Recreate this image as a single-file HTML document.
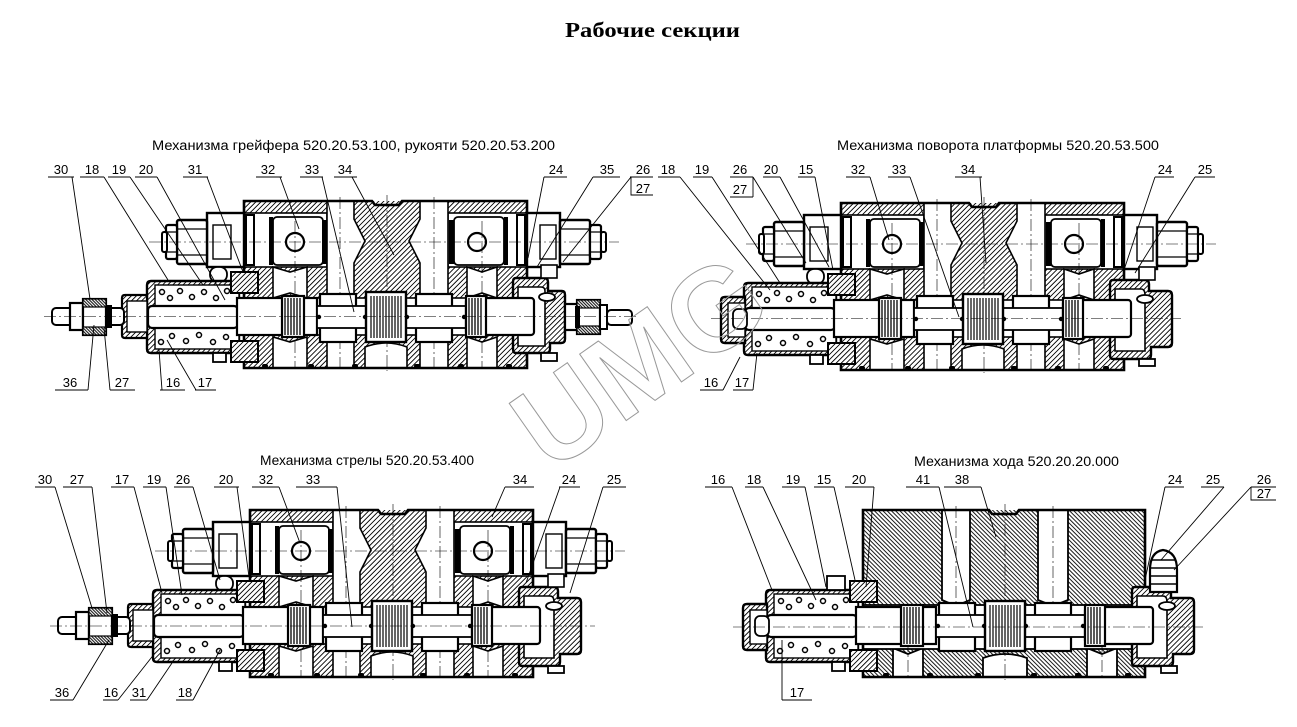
<!DOCTYPE html>
<html><head><meta charset="utf-8"><style>
html,body{margin:0;padding:0;background:#fff;}
svg{display:block;}
</style></head><body>
<svg xmlns="http://www.w3.org/2000/svg" width="1297" height="727" viewBox="0 0 1297 727">
<defs>
<pattern id="hA" patternUnits="userSpaceOnUse" width="3.6" height="8" patternTransform="rotate(45)"><rect width="3.6" height="8" fill="#fff"/><line x1="1.8" y1="0" x2="1.8" y2="8" stroke="#000" stroke-width="0.9"/></pattern>
<pattern id="hB" patternUnits="userSpaceOnUse" width="3" height="8" patternTransform="rotate(-45)"><rect width="3" height="8" fill="#fff"/><line x1="1.5" y1="0" x2="1.5" y2="8" stroke="#000" stroke-width="0.9"/></pattern>
<pattern id="hX" patternUnits="userSpaceOnUse" width="2.2" height="8" patternTransform="rotate(-45)"><rect width="2.2" height="8" fill="#fff"/><line x1="1.1" y1="0" x2="1.1" y2="8" stroke="#000" stroke-width="1"/></pattern>

<g id="spool" stroke="#000" fill="#fff">
 <rect x="-7" y="97" width="80" height="37" stroke-width="2.2"/>
 <rect x="38" y="95" width="22" height="41" stroke-width="2.2"/>
 <path d="M41,97V134M44,97V134M47,97V134M50,97V134M53,97V134M56,97V134" stroke-width="1.3"/>
 <rect x="76" y="93" width="36" height="48" stroke-width="2.2"/>
 <rect x="73" y="105" width="50" height="22" stroke-width="1.8"/>
 <rect x="172" y="93" width="36" height="48" stroke-width="2.2"/>
 <rect x="160" y="105" width="62" height="22" stroke-width="1.8"/>
 <rect x="122" y="91" width="40" height="50" stroke-width="2.4"/>
 <path d="M127,95V137M130,95V137M133,95V137M136,95V137M139,95V137M142,95V137M145,95V137M148,95V137M151,95V137M154,95V137M157,95V137" stroke-width="1.2"/>
 <rect x="222" y="97" width="68" height="37" rx="3" stroke-width="2.2"/>
 <rect x="222" y="95" width="20" height="41" stroke-width="2.2"/>
 <path d="M225,97V134M228,97V134M231,97V134M234,97V134M237,97V134" stroke-width="1.3"/>
 <g fill="#000" stroke="none"><circle cx="75" cy="116" r="2.2"/><circle cx="121" cy="116" r="2.2"/><circle cx="163" cy="116" r="2.2"/><circle cx="220" cy="116" r="2.2"/></g>
</g>

<g id="body">
 <rect x="0" y="0" width="283" height="167" fill="url(#hA)"/>
 <g fill="#fff" stroke="#000" stroke-width="1.6">
  <rect x="0" y="12" width="83" height="54"/>
  <rect x="204" y="12" width="79" height="54"/>
  <path d="M83,0H110V18L121,40L110,62V167H83Z"/>
  <path d="M204,0H176V18L165,40L176,62V167H204Z"/>
  <path d="M29,66L46,71L63,66V97L46,92L29,97Z"/>
  <path d="M223,66L238,71L253,66V97L238,92L223,97Z"/>
  <path d="M29,167V136L46,141L63,136V167Z"/>
  <path d="M223,167V136L238,141L253,136V167Z"/>
  <path d="M121,167V146Q142,138 163,146V167Z"/>
 </g>
 <rect x="0" y="97" width="283" height="37" fill="#fff" stroke="#000" stroke-width="1.6"/>
 <g stroke="#000" fill="#fff">
  <rect x="2" y="14" width="8" height="50" stroke-width="2"/>
  <rect x="29" y="16" width="50" height="48" rx="4" stroke-width="1.8"/>
  <circle cx="51" cy="41" r="9" stroke-width="2.2"/>
  <rect x="210" y="16" width="50" height="48" rx="4" stroke-width="1.8"/>
  <circle cx="233" cy="41" r="9" stroke-width="2.2"/>
  <rect x="273" y="14" width="8" height="50" stroke-width="2"/>
 </g>
 <rect x="78" y="19" width="5" height="44" fill="#000"/>
 <rect x="25" y="16" width="4" height="48" fill="#000"/>
 <rect x="205" y="19" width="5" height="44" fill="#000"/>
 <rect x="260" y="16" width="4" height="48" fill="#000"/>
 <path d="M0,0H128L131,4H155L158,0H283V167H0Z" fill="none" stroke="#000" stroke-width="2.6"/>
 <g fill="#000"><rect x="18" y="163" width="6" height="4" rx="2"/><rect x="64" y="163" width="6" height="4" rx="2"/><rect x="108" y="163" width="6" height="4" rx="2"/><rect x="170" y="163" width="6" height="4" rx="2"/><rect x="214" y="163" width="6" height="4" rx="2"/><rect x="262" y="163" width="6" height="4" rx="2"/></g>
 <g stroke="#000" fill="#fff">
  <rect x="-37" y="12" width="37" height="54" stroke-width="2.4"/>
  <rect x="-31" y="24" width="18" height="34" stroke-width="1.4"/>
  <rect x="-34" y="66" width="17" height="15" rx="7" stroke-width="1.8"/>
  <rect x="-67" y="19" width="30" height="44" rx="2" stroke-width="2.4"/>
  <path d="M-67,28H-37M-67,54H-37" stroke-width="1.2"/>
  <rect x="-78" y="24" width="11" height="34" rx="2" stroke-width="2.2"/>
  <path d="M-78,31H-67M-78,51H-67" stroke-width="1.2"/>
  <rect x="-82" y="31" width="5" height="20" rx="2" stroke-width="2"/>
 </g>
 <g stroke="#000" fill="#fff">
  <rect x="283" y="12" width="33" height="54" stroke-width="2.4"/>
  <rect x="296" y="24" width="16" height="34" stroke-width="1.4"/>
  <rect x="316" y="19" width="30" height="44" rx="2" stroke-width="2.4"/>
  <path d="M316,28H346M316,54H346" stroke-width="1.2"/>
  <rect x="346" y="24" width="11" height="34" rx="2" stroke-width="2.2"/>
  <path d="M346,31H357M346,51H357" stroke-width="1.2"/>
  <rect x="357" y="31" width="5" height="20" rx="2" stroke-width="2"/>
 </g>
 <g stroke="#000" stroke-width="0.6" stroke-dasharray="12,3,2,3" fill="none">
  <path d="M-95,41H375"/>
  <path d="M51,20V167M96,-4V167M143,-6V170M190,-4V167M238,20V167"/>
 </g>
</g>

<g id="lcap">
 <path d="M-93,80H-5V152H-93Q-97,152 -97,148V84Q-97,80 -93,80Z" fill="url(#hA)" stroke="#000" stroke-width="2.4"/>
 <rect x="-89" y="84" width="84" height="64" fill="#fff" stroke="#000" stroke-width="1.4"/>
 <rect x="-13" y="71" width="27" height="21" fill="url(#hA)" stroke="#000" stroke-width="2"/>
 <rect x="-13" y="140" width="27" height="21" fill="url(#hA)" stroke="#000" stroke-width="2"/>
 <g fill="#fff" stroke="#000" stroke-width="1.5">
  <circle cx="-82" cy="91" r="2.5"/><circle cx="-74" cy="97" r="2.5"/><circle cx="-64" cy="90" r="2.5"/><circle cx="-52" cy="96" r="2.5"/><circle cx="-40" cy="91" r="2.5"/><circle cx="-28" cy="97" r="2.5"/><circle cx="-17" cy="90" r="2.5"/>
  <circle cx="-83" cy="141" r="2.5"/><circle cx="-72" cy="135" r="2.5"/><circle cx="-58" cy="140" r="2.5"/><circle cx="-45" cy="134" r="2.5"/><circle cx="-31" cy="141" r="2.5"/><circle cx="-18" cy="136" r="2.5"/>
 </g>
 <rect x="-96" y="105" width="90" height="22" rx="4" fill="#fff" stroke="#000" stroke-width="2.2"/>
 <rect x="-31" y="152" width="13" height="9" fill="#fff" stroke="#000" stroke-width="1.8"/>
</g>

<g id="lrod" stroke="#000">
 <path d="M-119,94H-97V137H-119Q-122,137 -122,134V97Q-122,94 -119,94Z" fill="url(#hA)" stroke-width="2.2"/>
 <rect x="-117" y="100" width="20" height="31" fill="#fff" stroke-width="1.4"/>
 <rect x="-192" y="107" width="72" height="17" rx="4" fill="#fff" stroke-width="2"/>
 <rect x="-174" y="102" width="13" height="27" fill="#fff" stroke-width="2.2"/>
 <rect x="-161" y="98" width="23" height="36" fill="#fff" stroke-width="2.2"/>
 <rect x="-161" y="98" width="23" height="8" fill="url(#hX)" stroke-width="1.2"/>
 <rect x="-161" y="126" width="23" height="8" fill="url(#hX)" stroke-width="1.2"/>
 <rect x="-138" y="104" width="6" height="23" fill="#000" stroke="none"/>
</g>

<g id="lcup" stroke="#000">
 <path d="M-116,94H-96V140H-116Q-120,140 -120,136V98Q-120,94 -116,94Z" fill="url(#hA)" stroke-width="2.4"/>
 <rect x="-113" y="100" width="17" height="34" fill="#fff" stroke-width="1.4"/>
 <rect x="-108" y="106" width="14" height="20" rx="5" fill="#fff" stroke-width="1.8"/>
</g>

<g id="rcapA" stroke="#000">
 <path d="M272,77H300Q304,77 304,81V90H318Q321,90 321,94V138Q321,142 317,142H306V148Q306,152 302,152H272Q269,152 269,148V81Q269,77 272,77Z" fill="url(#hA)" stroke-width="2.4"/>
 <path d="M274,86H297Q301,86 301,90V145H274Z" fill="#fff" stroke-width="1.6"/>
 <ellipse cx="303" cy="96" rx="8" ry="4" fill="#fff" stroke-width="1.8"/>
 <rect x="297" y="64" width="16" height="13" fill="#fff" stroke-width="1.6"/>
 <rect x="297" y="152" width="16" height="8" fill="#fff" stroke-width="1.8"/>
 <rect x="321" y="103" width="12" height="26" fill="#fff" stroke-width="2.2"/>
 <rect x="333" y="99" width="23" height="34" fill="#fff" stroke-width="2.2"/>
 <rect x="333" y="99" width="23" height="8" fill="url(#hX)" stroke-width="1.2"/>
 <rect x="333" y="125" width="23" height="8" fill="url(#hX)" stroke-width="1.2"/>
 <rect x="331" y="105" width="5" height="22" fill="#000" stroke="none"/>
 <rect x="356" y="104" width="7" height="24" fill="#fff" stroke-width="2"/>
 <rect x="363" y="109" width="25" height="15" rx="4" fill="#fff" stroke-width="2"/>
</g>

<g id="rcapB" stroke="#000">
 <path d="M272,77H304Q308,77 308,81V88H327Q331,88 331,92V140Q331,144 327,144H310V152Q310,156 306,156H272Q269,156 269,152V81Q269,77 272,77Z" fill="url(#hA)" stroke-width="2.4"/>
 <path d="M274,86H300Q304,86 304,92V148H274Z" fill="#fff" stroke-width="1.6"/>
 <ellipse cx="304" cy="96" rx="8" ry="4" fill="#fff" stroke-width="1.8"/>
 <rect x="298" y="64" width="16" height="13" fill="#fff" stroke-width="1.6"/>
 <rect x="298" y="156" width="16" height="7" fill="#fff" stroke-width="1.8"/>
</g>
</defs>

<rect width="1297" height="727" fill="#fff"/>

<text x="565" y="37" font-family="Liberation Serif, serif" font-weight="bold" font-size="21" textLength="175" lengthAdjust="spacingAndGlyphs">Рабочие секции</text>
<g font-family="Liberation Sans, sans-serif" font-size="13.5" fill="#000">
 <text x="152" y="150" textLength="403" lengthAdjust="spacingAndGlyphs">Механизма грейфера 520.20.53.100,  рукояти 520.20.53.200</text>
 <text x="837" y="150" textLength="322" lengthAdjust="spacingAndGlyphs">Механизма поворота платформы 520.20.53.500</text>
 <text x="260" y="465" textLength="214" lengthAdjust="spacingAndGlyphs">Механизма стрелы 520.20.53.400</text>
 <text x="914" y="466" textLength="205" lengthAdjust="spacingAndGlyphs">Механизма хода 520.20.20.000</text>
</g>

<g transform="translate(244,201)">
 <use href="#body"/>
 <use href="#lcap"/>
 <use href="#lrod"/>
 <use href="#rcapA"/>
 <use href="#spool"/>
 <path d="M-200,115.5H395" stroke="#000" stroke-width="0.6" stroke-dasharray="12,3,2,3"/>
</g>

<g transform="translate(841,203)">
 <use href="#body"/>
 <use href="#lcap"/>
 <use href="#lcup"/>
 <use href="#rcapB"/>
 <use href="#spool"/>
 <path d="M-130,115.5H340" stroke="#000" stroke-width="0.6" stroke-dasharray="12,3,2,3"/>
</g>

<g transform="translate(250,510)">
 <use href="#body"/>
 <use href="#lcap"/>
 <use href="#lrod"/>
 <use href="#rcapB"/>
 <use href="#spool"/>
 <path d="M-200,116H345" stroke="#000" stroke-width="0.6" stroke-dasharray="12,3,2,3"/>
</g>

<g transform="translate(863,510)">
 <rect x="0" y="0" width="282" height="167" fill="url(#hB)"/>
 <g fill="#fff" stroke="#000" stroke-width="1.8">
  <path d="M79,0H107V90L93,96L79,90Z"/>
  <path d="M175,0H205V90L190,96L175,90Z"/>
  <path d="M30,167V138L45,144L60,138V167Z"/>
  <path d="M224,167V138L239,144L254,138V167Z"/>
  <path d="M120,167V148Q142,140 164,148V167Z"/>
 </g>
 <rect x="0" y="95" width="282" height="44" fill="#fff" stroke="#000" stroke-width="1.8"/>
 <path d="M0,0H126L129,4H153L156,0H282V167H0Z" fill="none" stroke="#000" stroke-width="2.6"/>
 <g fill="#000"><rect x="20" y="163" width="6" height="4" rx="2"/><rect x="64" y="163" width="6" height="4" rx="2"/><rect x="112" y="163" width="6" height="4" rx="2"/><rect x="168" y="163" width="6" height="4" rx="2"/><rect x="212" y="163" width="6" height="4" rx="2"/><rect x="262" y="163" width="6" height="4" rx="2"/></g>
 <g stroke="#000" stroke-width="0.6" stroke-dasharray="12,3,2,3" fill="none"><path d="M93,-4V100M142,-6V170M190,-4V100M45,130V167M239,130V167"/></g>
 <use href="#lcap"/>
 <rect x="-36" y="66" width="18" height="14" fill="#fff" stroke="#000" stroke-width="1.8"/>
 <use href="#lcup"/>
 <use href="#rcapB"/>
 <g stroke="#000" fill="#fff">
  <path d="M287,82V60Q287,42 300,40Q314,42 314,60V82Z" stroke-width="2.2"/>
  <path d="M288,50H313M288,58H313M288,66H313M288,74H313" stroke-width="1.4"/>
 </g>
 <use href="#spool"/>
 <path d="M-130,117H340" stroke="#000" stroke-width="0.6" stroke-dasharray="12,3,2,3"/>
</g>

<g stroke="#000" stroke-width="0.9" fill="none">
 <path d="M48,177H74M80,177H104M108,177H130M135,177H157M183,177H208M256,177H282M300,177H323M334,177H357M544,177H567M593,177H620M630,177H653M631,177V195H653"/>
 <path d="M72,177L90,299M104,177L168,280M130,177L203,285M157,177L225,300M207,177L243,272M280,177L299,229M322,177L354,312M352,177L394,255M544,177L528,258M593,177L537,267M631,177L563,262"/>
 <path d="M55,390H88M110,390H135M160,390H185M195,390H216"/>
 <path d="M88,390L94,325M110,390L104,328M162,390L159,350M196,390L167,340"/>
 <path d="M658,177H680M693,177H712M730,177H753M730,197H753M753,177V197M763,177H780M798,177H815M846,177H870M888,177H910M955,177H982M1155,177H1174M1195,177H1215"/>
 <path d="M680,177L770,290M712,177L780,283M753,177L806,263M780,177L829,267M815,177L833,270M870,177L889,240M910,177L959,317M980,177L986,263M1155,177L1124,270M1195,177L1135,273"/>
 <path d="M700,390H723M733,390H753M723,390L740,357M753,390L757,353"/>
 <path d="M35,487H55M63,487H92M111,487H134M143,487H166M174,487H193M214,487H239M252,487H279M296,487H337M505,487H534M559,487H580M603,487H626"/>
 <path d="M55,487L92,608M92,487L107,613M134,487L162,593M166,487L182,595M193,487L220,580M237,487L249,577M279,487L300,543M337,487L352,627M505,487L492,517M560,487L526,583M603,487L570,593"/>
 <path d="M50,700H73M103,700H118M130,700H147M176,700H193"/>
 <path d="M73,700L109,640M118,700L155,653M147,700L172,663M193,700L220,650"/>
 <path d="M705,487H732M745,487H763M782,487H805M814,487H834M845,487H874M906,487H939M944,487H981M1165,487H1184M1201,487H1224M1251,487H1276M1251,487V500H1276"/>
 <path d="M732,487L772,590M763,487L816,600M805,487L826,587M834,487L855,580M874,487L866,587M939,487L973,627M981,487L996,537M1165,487L1145,580M1224,487L1161,560M1251,487L1174,570"/>
 <path d="M782,700H812M782,700V640"/>
</g>

<g font-family="Liberation Sans, sans-serif" font-size="13" text-anchor="middle" fill="#000">
 <text x="61" y="174">30</text><text x="92" y="174">18</text><text x="119" y="174">19</text><text x="146" y="174">20</text><text x="195" y="174">31</text><text x="268" y="174">32</text><text x="312" y="174">33</text><text x="345" y="174">34</text><text x="556" y="174">24</text><text x="607" y="174">35</text><text x="643" y="174">26</text><text x="643" y="193">27</text>
 <text x="70" y="387">36</text><text x="122" y="387">27</text><text x="173" y="387">16</text><text x="205" y="387">17</text>
 <text x="668" y="174">18</text><text x="702" y="174">19</text><text x="740" y="174">26</text><text x="740" y="194">27</text><text x="771" y="174">20</text><text x="806" y="174">15</text><text x="858" y="174">32</text><text x="899" y="174">33</text><text x="968" y="174">34</text><text x="1165" y="174">24</text><text x="1205" y="174">25</text>
 <text x="711" y="387">16</text><text x="742" y="387">17</text>
 <text x="45" y="484">30</text><text x="77" y="484">27</text><text x="122" y="484">17</text><text x="154" y="484">19</text><text x="183" y="484">26</text><text x="226" y="484">20</text><text x="266" y="484">32</text><text x="313" y="484">33</text><text x="520" y="484">34</text><text x="569" y="484">24</text><text x="614" y="484">25</text>
 <text x="62" y="697">36</text><text x="111" y="697">16</text><text x="139" y="697">31</text><text x="185" y="697">18</text>
 <text x="718" y="484">16</text><text x="754" y="484">18</text><text x="793" y="484">19</text><text x="824" y="484">15</text><text x="859" y="484">20</text><text x="923" y="484">41</text><text x="962" y="484">38</text><text x="1175" y="484">24</text><text x="1213" y="484">25</text><text x="1264" y="484">26</text><text x="1264" y="498">27</text>
 <text x="797" y="697">17</text>
</g>

<text x="550" y="474" transform="rotate(-35 550 474)" font-family="Liberation Sans, sans-serif" font-weight="bold" font-size="118" fill="none" stroke="#999" stroke-width="1">UMG</text>
</svg>
</body></html>
